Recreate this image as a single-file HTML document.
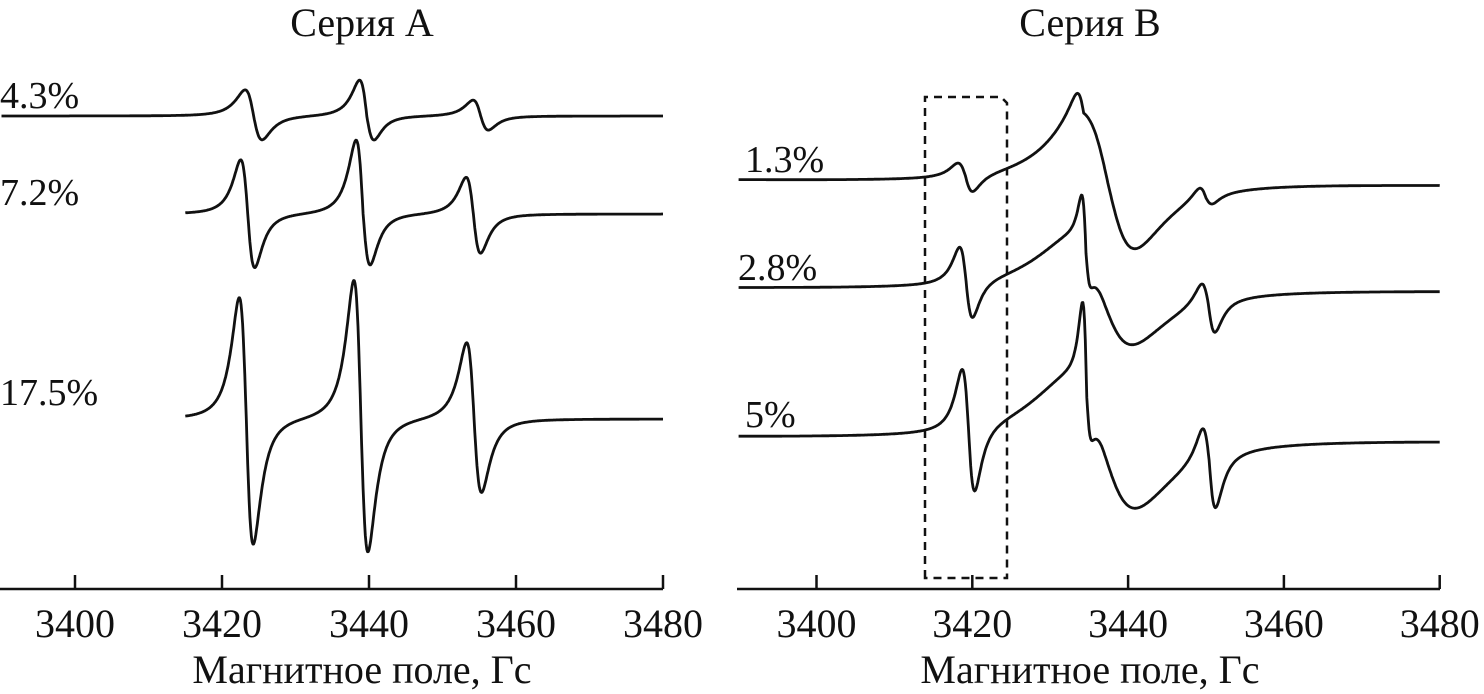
<!DOCTYPE html>
<html><head><meta charset="utf-8">
<style>
html,body{margin:0;padding:0;background:#fff;}
svg{display:block;}
text{font-family:"Liberation Serif","DejaVu Serif",serif;fill:#111;}
</style></head>
<body>
<svg id="chart" width="1484" height="694" viewBox="0 0 1484 694">
  <g id="panelA"></g>
  <g id="panelB"></g>
</svg>
<script>
// ---- data ----
const tickFields = [3400, 3420, 3440, 3460, 3480];
const tickLabels = ["3400", "3420", "3440", "3460", "3480"];
const panelTitles = ["Серия А", "Серия В"];
const axisTitle = "Магнитное поле, Гс";

// Series A spectra (line centers in G, half-widths in G, up/down amplitudes in a.u.)
const aLabels = ["4.3%", "7.2%", "17.5%"];
const aBaselines = [116, 214, 419];
const aStart = [3390, 3415, 3415];
const aCenters = [[3424.3, 3439.7, 3455.2], [3423.5, 3439.2, 3454.2], [3423.3, 3438.9, 3454.3]];
const aWidths = [[2.0, 1.7, 1.8], [1.65, 1.65, 1.7], [1.65, 1.65, 1.75]];
const aUp = [[26, 36, 16], [54, 74, 37], [121, 139, 77]];
const aDown = [[24, 24, 14], [54, 51, 39], [126, 133, 73]];

// Series B spectra
const bLabels = ["1.3%", "2.8%", "5%"];
const bBaseLeft = [180, 288, 437];
const bBaseRight = [185, 291, 441];
const bCenters = [[3419.1, 3434.3, 3437.4, 3450.0], [3419.2, 3434.6, 3436.5, 3450.3], [3419.5, 3434.7, 3436.6, 3450.4]];
const bWidths = [[1.67, 1.5, 6.0, 1.5], [1.45, 0.9, 7.0, 1.5], [1.4, 0.9, 7.5, 1.45]];
const bUp = [[13, 20, 70, 12], [35, 52, 50, 22], [59, 88, 60, 34]];
const bDown = [[17, 1, 66, 8], [37, 25, 55, 30], [65, 32, 69, 50]];

// ---- scales ----
const xA = g => 75 + (g - 3400) * 7.35;
const xB = g => 816.5 + (g - 3400) * 7.79;
const AXIS_Y = 589;
const NS = "http://www.w3.org/2000/svg";

function mk(tag, attrs, parent) {
  const e = document.createElementNS(NS, tag);
  for (const k in attrs) e.setAttribute(k, attrs[k]);
  parent.appendChild(e);
  return e;
}
function deriv(g, c, w, up, down) {
  const u = (g - c) / w;
  const f = -2 * u / Math.pow(1 + u * u, 2) / 0.6495;
  return f > 0 ? f * up : f * down;
}
function spectrumPath(xs, g0, g1, baseL, baseR, cs, ws, ups, downs) {
  let d = "";
  for (let g = g0; g <= g1 + 1e-6; g += 0.1) {
    let v = 0;
    for (let i = 0; i < cs.length; i++) v += deriv(g, cs[i], ws[i], ups[i], downs[i]);
    const base = baseL + (baseR - baseL) * (g - g0) / (g1 - g0);
    d += (d ? "L" : "M") + xs(g).toFixed(1) + "," + (base - v).toFixed(1);
  }
  return d;
}
function drawAxis(parent, xs, x0, x1, cx, title) {
  const ax = mk("line", {x1: x0, y1: AXIS_Y, x2: x1, y2: AXIS_Y, stroke: "#111", "stroke-width": 2.5}, parent);
  
  
  tickFields.forEach((t, i) => {
    const tk = mk("line", {x1: xs(t), y1: AXIS_Y, x2: xs(t), y2: AXIS_Y - 14, stroke: "#111", "stroke-width": 2.5}, parent);
    
    
    const tl = mk("text", {x: xs(t), y: 637, "font-size": 40, "text-anchor": "middle"}, parent);
    tl.textContent = tickLabels[i];
    
    
  });
  const at = mk("text", {x: cx, y: 683, "font-size": 40, "text-anchor": "middle"}, parent);
  at.textContent = axisTitle;
  
  
  const pt = mk("text", {x: cx, y: 36, "font-size": 40, "text-anchor": "middle"}, parent);
  pt.textContent = title;
  
  
}

const pA = document.getElementById("panelA");
const pB = document.getElementById("panelB");
drawAxis(pA, xA, 0, 663, 362, panelTitles[0]);
drawAxis(pB, xB, 737, 1440, 1090, panelTitles[1]);

const aLabelY = [108, 205, 405];
aLabels.forEach((lab, i) => {
  const p = mk("path", {d: spectrumPath(xA, aStart[i], 3480, aBaselines[i], aBaselines[i], aCenters[i], aWidths[i], aUp[i], aDown[i]), fill: "none", stroke: "#111", "stroke-width": 2.8, "stroke-linejoin": "round"}, pA);
  
  
  const t = mk("text", {x: 0, y: aLabelY[i], "font-size": 38}, pA);
  t.textContent = lab;
  
  
});

const bLabelX = [745, 738, 745];
const bLabelY = [172, 280, 427];
bLabels.forEach((lab, i) => {
  const p = mk("path", {d: spectrumPath(xB, 3390, 3480, bBaseLeft[i], bBaseRight[i], bCenters[i], bWidths[i], bUp[i], bDown[i]), fill: "none", stroke: "#111", "stroke-width": 2.8, "stroke-linejoin": "round"}, pB);
  
  
  const t = mk("text", {x: bLabelX[i], y: bLabelY[i], "font-size": 38}, pB);
  t.textContent = lab;
  
  
});

const box = mk("path", {d: "M925,578 L925,97 L1001,97 L1007,103 L1007,578 Z", fill: "none", stroke: "#111", "stroke-width": 2.5, "stroke-dasharray": "8,6"}, pB);


</script>
</body></html>
